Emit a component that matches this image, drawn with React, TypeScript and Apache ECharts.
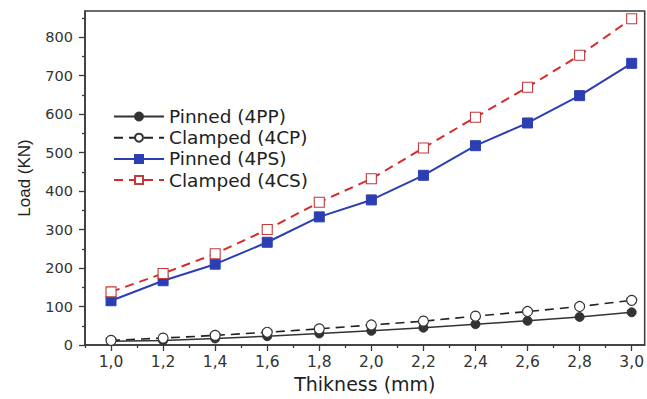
import React, { useEffect, useRef } from "react";
import * as echarts from "echarts";

const thickness = [1.0, 1.2, 1.4, 1.6, 1.8, 2.0, 2.2, 2.4, 2.6, 2.8, 3.0];
const minorX = [0.9, 1.1, 1.3, 1.5, 1.7, 1.9, 2.1, 2.3, 2.5, 2.7, 2.9];
const yTicks = [0, 100, 200, 300, 400, 500, 600, 700, 800];
const yMinor = [50, 150, 250, 350, 450, 550, 650, 750, 850];

const pinned4PP = [10, 12, 17, 23, 30, 37, 45, 54, 63, 73, 85];
const clamped4CP = [12, 18, 25, 33, 42, 52, 62, 75, 87, 100, 116];
const pinned4PS = [115, 167, 210, 267, 333, 377, 441, 518, 577, 648, 732];
const clamped4CS = [138, 186, 237, 300, 371, 432, 512, 592, 670, 753, 848];

const seriesNames = ["Pinned (4PP)", "Clamped (4CP)", "Pinned (4PS)", "Clamped (4CS)"];

const FONT = "'DejaVu Sans', 'Liberation Sans', Arial, sans-serif";
const FONT2 = "'Liberation Sans', Arial, sans-serif";
const AXIS_COLOR = "#3a3a3a";

const pair = (vals: number[]) => thickness.map((t, i) => [t, vals[i]]);

export default function App() {
  const ref = useRef<HTMLDivElement>(null);
  useEffect(() => {
    document.body.style.margin = "0";
    const chart = echarts.init(ref.current!, undefined, { renderer: "svg" });
    const xMin = 0.9;
    const xMax = 3.05;
    const yMin = 0;
    const yMax = 868;
    chart.setOption({
      animation: false,
      backgroundColor: "#ffffff",
      textStyle: { fontFamily: FONT },
      grid: {
        left: 85,
        right: -1,
        top: 11,
        bottom: 54,
        show: true,
        borderColor: AXIS_COLOR,
        borderWidth: 1.5,
        backgroundColor: "transparent",
      },
      legend: {
        orient: "vertical",
        left: 108,
        top: 102,
        itemWidth: 50,
        itemHeight: 10,
        itemGap: 2.2,
        data: seriesNames,
        textStyle: { fontSize: 18.5, color: "#222", fontFamily: FONT },
      },
      xAxis: [
        {
          type: "value",
          min: xMin,
          max: xMax,
          name: "Thikness (mm)",
          nameLocation: "middle",
          nameGap: 29,
          nameTextStyle: { fontSize: 19, color: "#222", fontFamily: FONT },
          axisLine: { show: true, onZero: false, lineStyle: { color: AXIS_COLOR, width: 1.5 } },
          axisTick: {
            show: true,
            inside: false,
            length: 6,
            customValues: thickness,
            lineStyle: { color: AXIS_COLOR, width: 1.3 },
          },
          axisLabel: {
            customValues: thickness,
            fontSize: 15.5,
            color: "#333",
            margin: 9,
            fontFamily: FONT,
            formatter: (v: number) => v.toFixed(1).replace(".", ","),
          },
          splitLine: { show: false },
        },
        {
          type: "value",
          min: xMin,
          max: xMax,
          position: "bottom",
          axisLine: { show: false },
          axisTick: {
            show: true,
            inside: false,
            length: 3,
            customValues: minorX,
            lineStyle: { color: AXIS_COLOR, width: 1.3 },
          },
          axisLabel: { show: false },
          splitLine: { show: false },
        },
      ],
      yAxis: [
        {
          type: "value",
          min: yMin,
          max: yMax,
          name: "Load (KN)",
          nameLocation: "middle",
          nameGap: 52,
          nameTextStyle: { fontSize: 17, color: "#222", fontFamily: FONT2 },
          axisLine: { show: true, onZero: false, lineStyle: { color: AXIS_COLOR, width: 1.5 } },
          axisTick: {
            show: true,
            inside: false,
            length: 6,
            customValues: yTicks,
            lineStyle: { color: AXIS_COLOR, width: 1.3 },
          },
          axisLabel: {
            customValues: yTicks,
            fontSize: 14.5,
            color: "#333",
            margin: 12,
            fontFamily: FONT,
          },
          splitLine: { show: false },
        },
        {
          type: "value",
          min: yMin,
          max: yMax,
          position: "left",
          axisLine: { show: false },
          axisTick: {
            show: true,
            inside: false,
            length: 3,
            customValues: yMinor,
            lineStyle: { color: AXIS_COLOR, width: 1.3 },
          },
          axisLabel: { show: false },
          splitLine: { show: false },
        },
      ],
      series: [
        {
          name: seriesNames[0],
          type: "line",
          data: pair(pinned4PP),
          symbol: "circle",
          symbolSize: 9,
          lineStyle: { color: "#333333", width: 1.5, type: "solid" },
          itemStyle: { color: "#333333", borderColor: "#333333", borderWidth: 1 },
          z: 3,
        },
        {
          name: seriesNames[1],
          type: "line",
          data: pair(clamped4CP),
          symbol: "circle",
          symbolSize: 10,
          lineStyle: { color: "#222222", width: 1.6, type: [9, 6] },
          itemStyle: { color: "#ffffff", borderColor: "#333333", borderWidth: 1.2 },
          z: 4,
        },
        {
          name: seriesNames[2],
          type: "line",
          data: pair(pinned4PS),
          symbol: "rect",
          symbolSize: 10,
          lineStyle: { color: "#2c3fb2", width: 2, type: "solid" },
          itemStyle: { color: "#2c3fb2", borderColor: "#2c3fb2", borderWidth: 1 },
          z: 3,
        },
        {
          name: seriesNames[3],
          type: "line",
          data: pair(clamped4CS),
          symbol: "rect",
          symbolSize: 10,
          lineStyle: { color: "#d62b2b", width: 2, type: [9, 6] },
          itemStyle: { color: "#ffffff", borderColor: "#c23a3a", borderWidth: 1.1 },
          z: 4,
        },
      ],
    });
    return () => chart.dispose();
  }, []);
  return <div ref={ref} style={{ width: 647, height: 399 }} />;
}
